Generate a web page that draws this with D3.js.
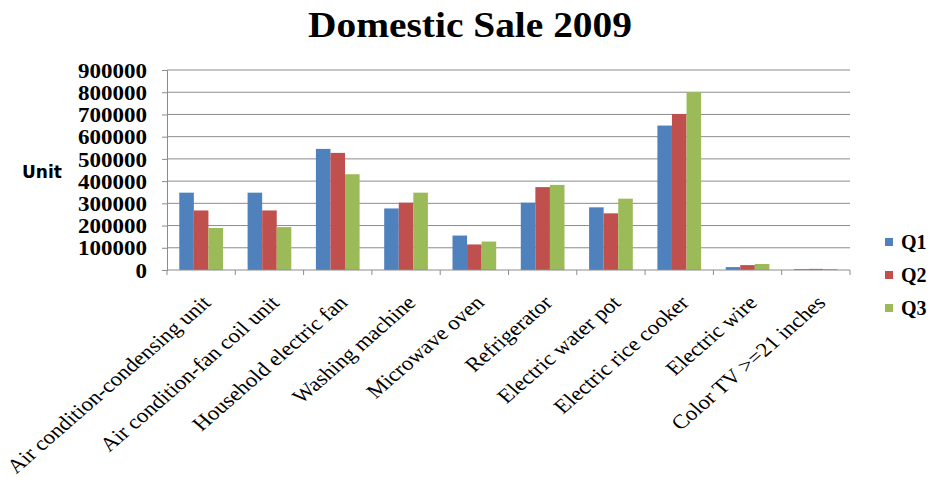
<!DOCTYPE html>
<html>
<head>
<meta charset="utf-8">
<script src="https://cdn.jsdelivr.net/npm/d3@7/dist/d3.min.js"></script>
<style>
  html, body { margin: 0; padding: 0; background: #fff; }
  svg { display: block; }
</style>
</head>
<body>
<svg id="chart" width="930" height="477"></svg>
<script>
// Domestic sales by product, first three quarters of 2009
const categories = [
  "Air condition-condensing unit",
  "Air condition-fan coil unit",
  "Household electric fan",
  "Washing machine",
  "Microwave oven",
  "Refrigerator",
  "Electric water pot",
  "Electric rice cooker",
  "Electric wire",
  "Color TV >=21 inches"
];
const seriesNames = ["Q1", "Q2", "Q3"];
const q1 = [348000, 348000, 545000, 277000, 155000, 303000, 282000, 650000, 13000, 4000];
const q2 = [268000, 268000, 527000, 303000, 115000, 373000, 255000, 702000, 22000, 5000];
const q3 = [189000, 193000, 431000, 348000, 128000, 383000, 321000, 800000, 27000, 4500];
const yTicks = [0, 100000, 200000, 300000, 400000, 500000, 600000, 700000, 800000, 900000];
const colors = ["#4F81BD", "#C0504D", "#9BBB59"];

const series = [q1, q2, q3];

const svg = d3.select("#chart");
const plot = { left: 167, right: 850, top: 70, bottom: 270 };

const x = d3.scaleBand()
  .domain(categories)
  .range([plot.left, plot.right])
  .paddingInner(0.36)
  .paddingOuter(0.18);

const xSub = d3.scaleBand()
  .domain(seriesNames)
  .range([0, x.bandwidth()]);

const y = d3.scaleLinear()
  .domain([0, 900000])
  .range([plot.bottom, plot.top]);

const serif = "'Liberation Serif', 'Times New Roman', serif";

// Title
svg.append("text")
  .attr("x", 470)
  .attr("y", 37)
  .attr("text-anchor", "middle")
  .attr("font-family", serif)
  .attr("font-weight", "bold")
  .attr("font-size", 35)
  .attr("textLength", 324)
  .attr("lengthAdjust", "spacingAndGlyphs")
  .attr("fill", "#000")
  .text("Domestic Sale 2009");

// Horizontal gridlines
svg.append("g")
  .selectAll("line")
  .data(yTicks.slice(1))
  .join("line")
  .attr("x1", plot.left)
  .attr("x2", plot.right)
  .attr("y1", d => y(d))
  .attr("y2", d => y(d))
  .attr("stroke", "#8c8c8c")
  .attr("stroke-width", 1);

// Value axis
const yAxis = svg.append("g")
  .attr("transform", `translate(${plot.left},0)`)
  .call(d3.axisLeft(y).tickValues(yTicks).tickFormat(d3.format("d")).tickSize(5).tickPadding(15));
yAxis.select(".domain").attr("stroke", "#8c8c8c");
yAxis.selectAll(".tick line").attr("stroke", "#8c8c8c");
yAxis.selectAll(".tick text")
  .attr("font-family", serif)
  .attr("font-weight", "bold")
  .attr("font-size", 20)
  .attr("dy", "0.36em")
  .attr("fill", "#000")
  .each(function (d) {
    // widen the digits slightly to the label width used on this axis
    const t = d3.select(this);
    t.attr("textLength", String(d).length * 11.5).attr("lengthAdjust", "spacingAndGlyphs");
  });

// Axis title
svg.append("text")
  .attr("x", 22)
  .attr("y", 178)
  .attr("font-family", "'DejaVu Sans', Verdana, sans-serif")
  .attr("font-weight", "bold")
  .attr("font-size", 17)
  .attr("fill", "#000")
  .text("Unit");

// Bars
const groups = svg.append("g")
  .selectAll("g")
  .data(categories)
  .join("g")
  .attr("transform", d => `translate(${x(d)},0)`);

groups.selectAll("rect")
  .data((d, i) => seriesNames.map((s, j) => ({ s, v: series[j][i], c: colors[j] })))
  .join("rect")
  .attr("x", d => xSub(d.s))
  .attr("width", xSub.bandwidth())
  .attr("y", d => y(d.v))
  .attr("height", d => y(0) - y(d.v))
  .attr("fill", d => d.c);

// Category axis with ticks between groups
const edges = d3.range(categories.length + 1).map(i => plot.left + i * (plot.right - plot.left) / categories.length);
const xAxis = svg.append("g");
xAxis.append("line")
  .attr("x1", plot.left).attr("x2", plot.right)
  .attr("y1", plot.bottom).attr("y2", plot.bottom)
  .attr("stroke", "#8c8c8c");
xAxis.selectAll("line.tk")
  .data(edges)
  .join("line")
  .attr("class", "tk")
  .attr("x1", d => d).attr("x2", d => d)
  .attr("y1", plot.bottom).attr("y2", plot.bottom + 5)
  .attr("stroke", "#8c8c8c");

// Rotated category labels (slightly widened)
svg.append("g")
  .selectAll("text")
  .data(categories)
  .join("text")
  .attr("transform", d => `translate(${x(d) + x.bandwidth() / 2 + 11},${plot.bottom + 34}) scale(1.15,1) rotate(-45)`)
  .attr("text-anchor", "end")
  .attr("font-family", serif)
  .attr("font-size", 20)
  .attr("fill", "#000")
  .text(d => d);

// Legend
const legend = svg.append("g")
  .selectAll("g")
  .data(seriesNames)
  .join("g")
  .attr("transform", (d, i) => `translate(885,${242 + i * 33})`);
legend.append("rect")
  .attr("x", 0).attr("y", -4)
  .attr("width", 8).attr("height", 8)
  .attr("fill", (d, i) => colors[i]);
legend.append("text")
  .attr("x", 16).attr("y", 7)
  .attr("font-family", serif)
  .attr("font-weight", "bold")
  .attr("font-size", 20)
  .attr("fill", "#000")
  .text(d => d);
</script>
</body>
</html>
